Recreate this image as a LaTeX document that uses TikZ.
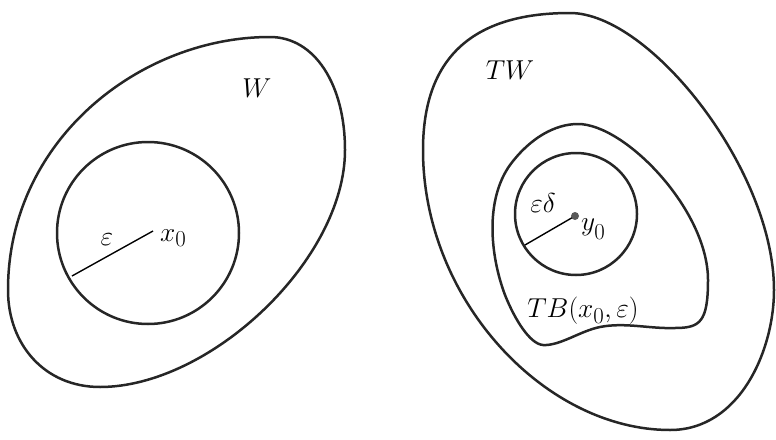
\documentclass[tikz,border=0pt]{standalone}
\usepackage{graphicx}
\newcommand{\bigmath}[1]{\scalebox{1.1}{$#1$}}
\begin{document}
\begin{tikzpicture}[x=1pt,y=-1pt,
  curve/.style={line width=2.5pt,draw=black!85},
  radius line/.style={line width=1.4pt,draw=black},
  lbl/.style={inner sep=0pt,font=\fontsize{24.88}{30}\selectfont}]
\useasboundingbox (0,0) rectangle (776,439);
% ---------- left figure ----------
\draw[curve] (270,37) .. controls (315,37) and (345,85) .. (345,150)
  .. controls (345,260) and (210,387) .. (100,387)
  .. controls (45,387) and (8,345) .. (8,290)
  .. controls (8,140) and (140,37) .. (270,37) -- cycle;
\draw[curve] (148,233) circle[radius=91];
\coordinate (x0) at (153,231);
\coordinate (xr) at (72,276);
\draw[radius line] (xr) -- (x0);
\node[lbl] (W) at (257,88) {\bigmath{W}};
\node[lbl,anchor=west] (x0lbl) at (160,238) {\bigmath{x_0}};
\node[lbl] (eps) at (107,240) {\bigmath{\varepsilon}};
% ---------- right figure ----------
\draw[curve] (570,13) .. controls (470,13) and (423,60) .. (423,150)
  .. controls (423,300) and (545,430) .. (670,430)
  .. controls (740,430) and (774,350) .. (774,290)
  .. controls (774,170) and (650,13) .. (570,13) -- cycle;
\draw[curve] (578,124) .. controls (625,124) and (708,210) .. (708,280)
  .. controls (708,322) and (700,328) .. (675,328)
  .. controls (650,329) and (625,322) .. (600,327)
  .. controls (580,331) and (560,346) .. (543,345)
  .. controls (530,344) and (515,320) .. (505,295)
  .. controls (490,255) and (485,200) .. (510,165)
  .. controls (530,138) and (555,124) .. (578,124) -- cycle;
\draw[curve] (576,214) circle[radius=61];
\coordinate (y0) at (575,216);
\coordinate (yr) at (525,245);
\draw[radius line] (yr) -- (y0);
\fill[black!65] (y0) circle[radius=4];
\node[lbl] (TW) at (510,70) {\bigmath{TW}};
\node[lbl] (ed) at (543,203) {\bigmath{\varepsilon\delta}};
\node[lbl,anchor=west] (y0lbl) at (581,229) {\bigmath{y_{\lower5pt\hbox{$\scriptstyle 0$}}}};
\node[lbl] (TB) at (583,311) {\bigmath{TB(x_0,\varepsilon)}};
\end{tikzpicture}
\end{document}
